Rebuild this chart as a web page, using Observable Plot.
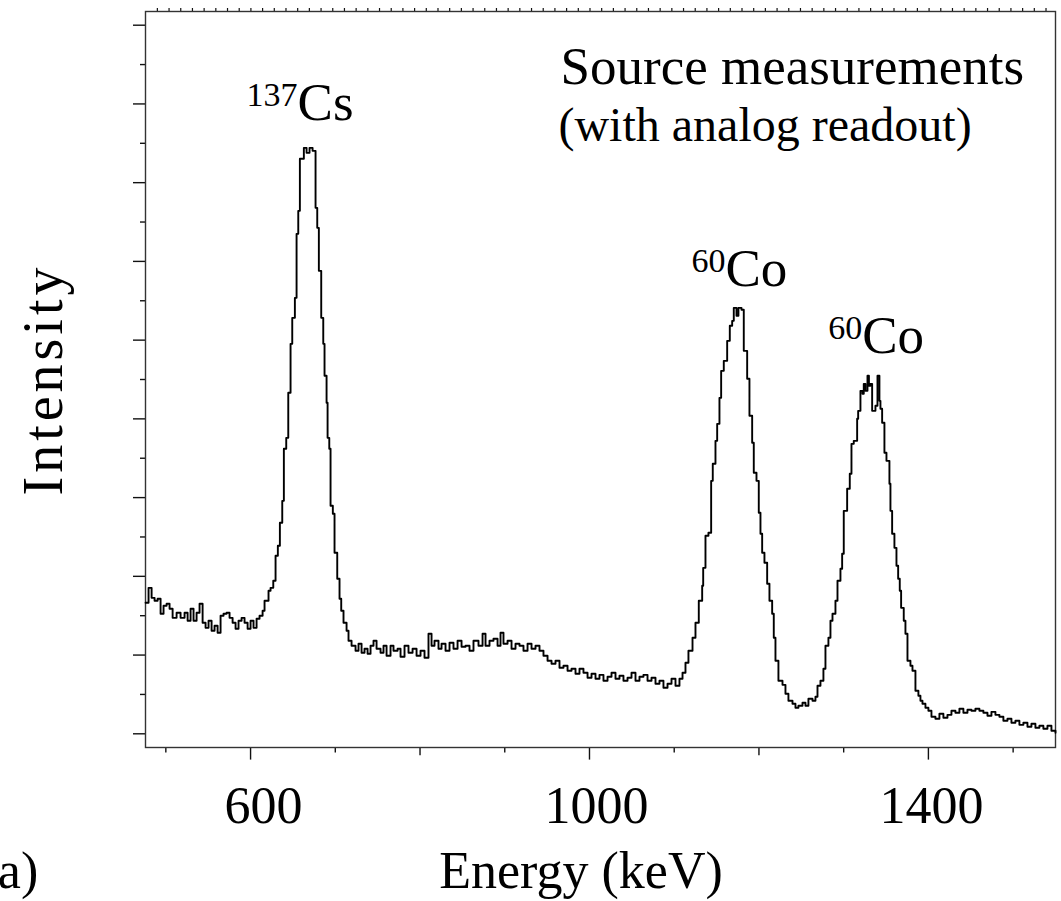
<!DOCTYPE html>
<html><head><meta charset="utf-8">
<script src="https://cdn.jsdelivr.net/npm/d3@7"></script>
<script src="https://cdn.jsdelivr.net/npm/@observablehq/plot@0.6"></script>
<style>html,body{margin:0;padding:0;background:#fff;overflow:hidden} svg{display:block}</style>
</head><body><div id="chart"></div>
<script>
// Spectrum (step histogram): energy in keV (left edge of each step) and intensity (arb. units)
const energy = [
476.1,479.6,483.2,486.7,490.3,493.8,497.3,500.9,504.4,508.0,512.7,517.4,522.1,525.7,529.2,532.7,536.3,539.8,543.4,546.9,
550.4,554.0,557.5,561.1,564.6,568.1,571.7,575.2,578.8,582.3,585.8,589.4,592.9,596.5,600.0,603.5,607.1,610.6,614.2,616.5,
621.2,623.6,626.8,629.5,632.2,634.6,637.4,639.3,642.1,644.5,647.2,649.2,652.3,654.3,656.3,658.2,662.9,666.1,669.6,673.2,
676.7,678.7,680.6,683.4,685.8,687.3,689.7,690.9,692.9,694.4,697.1,699.1,702.3,705.0,707.0,709.7,713.3,715.6,719.2,723.9,
727.4,731.0,734.5,738.1,741.6,745.1,748.7,753.4,756.9,760.5,765.2,768.7,773.5,777.0,781.7,786.4,791.2,795.9,800.6,805.3,
810.0,813.6,817.1,821.8,825.4,830.1,834.8,839.5,844.3,849.0,853.7,858.4,863.1,869.0,873.8,877.3,882.0,886.7,891.5,895.0,
898.5,903.3,908.0,912.7,917.4,922.1,926.9,931.6,936.3,941.0,945.7,950.5,955.2,959.9,964.6,969.3,974.1,978.8,983.5,988.2,
992.9,997.7,1002.4,1007.1,1011.8,1016.5,1021.3,1026.0,1030.7,1035.4,1040.1,1044.9,1049.6,1054.3,1059.0,1063.7,1068.5,1073.2,1077.9,1082.6,
1087.3,1092.1,1096.8,1101.5,1106.2,1109.8,1113.3,1116.8,1121.6,1125.1,1129.0,1133.0,1134.2,1136.9,1140.4,1143.6,1145.5,1148.7,1150.7,1153.4,
1155.4,1158.5,1162.5,1165.6,1168.4,1170.3,1173.5,1175.8,1179.4,1182.1,1186.1,1188.8,1192.0,1193.9,1197.1,1199.8,1201.8,1203.8,1206.5,1209.7,
1212.4,1215.6,1217.5,1219.5,1223.0,1227.8,1231.3,1234.8,1239.6,1243.1,1246.6,1251.4,1254.9,1258.4,1263.2,1266.7,1269.1,1272.6,1276.1,1278.5,
1282.0,1284.4,1286.8,1290.3,1292.7,1296.2,1298.2,1300.1,1304.1,1307.2,1309.2,1311.9,1315.9,1317.1,1319.8,1322.2,1323.7,1325.7,1328.1,1329.8,
1331.6,1333.6,1337.5,1339.9,1342.2,1343.4,1345.4,1348.1,1350.5,1354.0,1355.2,1357.2,1359.9,1362.3,1364.3,1366.2,1367.8,1370.9,1372.9,1375.3,
1378.8,1381.2,1384.7,1388.2,1390.6,1393.0,1396.5,1400.0,1403.6,1408.3,1413.0,1417.7,1422.5,1427.2,1431.9,1436.6,1441.3,1446.1,1450.8,1455.5,
1460.2,1464.9,1469.7,1474.4,1479.1,1483.8,1488.5,1493.3,1498.0,1502.7,1507.4,1512.1,1516.9,1521.6,1526.3,1531.0,1535.7,1540.5,1545.2,1550.0
];
const counts = [
1664,1854,1727,1689,1715,1524,1626,1651,1588,1473,1537,1473,1537,1435,1588,1435,1537,1651,1410,1346,
1435,1308,1372,1283,1499,1524,1537,1473,1410,1334,1435,1473,1410,1334,1435,1346,1461,1499,1562,1689,
1816,1854,1943,2261,2388,2680,2959,3620,3759,4331,4953,5283,5537,6350,6642,7303,7442,7379,7442,7404,
6680,6426,5880,5283,4953,4547,4204,3759,3620,2896,2794,2299,1969,1715,1562,1410,1308,1181,1118,1054,
1143,1029,1080,1016,1118,1181,1080,1029,1118,991,1118,1054,1080,978,1118,1029,1080,991,1054,965,
1270,1118,1181,1080,1143,1054,1156,1080,1181,1105,1118,1054,1181,1118,1270,1118,1181,1207,1118,1283,
1143,1181,1080,1143,1118,1054,1143,1080,1118,1054,991,927,889,927,838,864,800,826,762,826,
775,711,762,699,749,673,724,775,699,737,673,711,775,673,724,749,673,711,635,673,
584,635,699,610,699,775,902,1054,1219,1410,1689,1880,2108,2515,2553,3213,3429,3721,3937,4267,
4610,4737,4991,5182,5245,5410,5309,5410,5385,4864,4509,4039,3696,3315,3213,2807,2540,2299,2172,1905,
1689,1524,1219,927,673,622,508,419,381,330,356,394,356,445,419,470,610,673,826,1118,
1219,1435,1524,1689,1943,2096,2286,2832,3112,3302,3683,3721,4001,4102,4356,4318,4445,4356,4547,4420,
4445,4102,4166,4547,4229,4128,3950,3569,3467,3175,2832,2540,2362,2134,1969,1816,1600,1435,1270,927,
864,800,546,483,419,381,330,292,216,191,254,203,241,292,267,318,267,305,292,318,
292,267,229,279,241,216,165,191,140,165,114,140,89,127,76,102,64,102,38,13
];

// Axis ticks
const xLabelTicks = [600, 1000, 1400];
const xMediumTicks = [800, 1200];
const xMinorTicks = [500, 700, 900, 1100, 1300, 1500];
const yMajorTicks = [0, 1000, 2000, 3000, 4000, 5000, 6000, 7000, 8000, 9000];
const yMinorTicks = [500, 1500, 2500, 3500, 4500, 5500, 6500, 7500, 8500];
const topTicks = d3.range(490, 1550, 13.8);

// Peak annotations: isotope mass number, element, and anchor (energy, intensity)
const peakMass = ["137", "60", "60"];
const peakElement = ["Cs", "Co", "Co"];
const peakEnergy = [655.5, 1160.5, 1321.8];
const peakLevel = [7790, 5690, 4839];

const titleLines = ["Source measurements", "(with analog readout)"];
const xLabel = "Energy (keV)";
const yLabel = "Intensity";
const panelTag = "(a)";

const spectrum = energy.map((e, i) => ({energy: e, counts: counts[i]}));
const peaks = peakMass.map((m, i) => ({mass: m, el: peakElement[i], e: peakEnergy[i], v: peakLevel[i]}));

const serif = "'Liberation Serif','Times New Roman',serif";
const labelShift = [13, 7, 3];

const chart = Plot.plot({
  width: 1061,
  height: 901,
  marginLeft: 145,
  marginRight: 6,
  marginTop: 11,
  marginBottom: 154,
  style: {fontFamily: serif, background: "white", color: "#111", overflow: "visible"},
  x: {domain: [476, 1550]},
  y: {domain: [-174, 9174]},
  marks: [
    Plot.axisY(yMajorTicks, {tickSize: 12, tickFormat: () => "", strokeWidth: 1.4, label: null}),
    Plot.axisY(yMinorTicks, {tickSize: 5, tickFormat: () => "", strokeWidth: 1.4, label: null}),
    Plot.axisX(xLabelTicks, {tickSize: 12.6, tickFormat: () => "", strokeWidth: 1.4, label: null}),
    Plot.axisX(xMediumTicks, {tickSize: 8.3, tickFormat: () => "", strokeWidth: 1.4, label: null}),
    Plot.axisX(xMinorTicks, {tickSize: 5.5, tickFormat: () => "", strokeWidth: 1.4, label: null}),
    Plot.axisX(topTicks, {anchor: "top", tickSize: 4, tickFormat: () => "", strokeWidth: 1.2, label: null}),
    ...xLabelTicks.map((t, i) => Plot.text([t], {x: d => d, text: d => String(d), frameAnchor: "bottom", dy: 75, dx: labelShift[i], lineAnchor: "bottom", fontSize: 52, fill: "black"})),
    Plot.frame({stroke: "#333", strokeWidth: 1.4}),
    Plot.line(spectrum, {x: "energy", y: "counts", curve: "step-after", stroke: "black", strokeWidth: 1.9}),
    Plot.text(peaks, {x: "e", y: "v", text: "el", textAnchor: "start", lineAnchor: "bottom", fontSize: 53, fill: "black"}),
    Plot.text(peaks, {x: "e", y: "v", text: "mass", textAnchor: "end", lineAnchor: "bottom", fontSize: 34, dy: -14, fill: "black"}),
    Plot.text([titleLines[0]], {x: [965.8], y: [8255], textAnchor: "start", lineAnchor: "bottom", fontSize: 53, fill: "black"}),
    Plot.text([titleLines[1]], {x: [963.4], y: [7530], textAnchor: "start", lineAnchor: "bottom", fontSize: 48, fill: "black"}),
    Plot.text([yLabel], {frameAnchor: "left", dx: -101, rotate: -90, textAnchor: "middle", lineAnchor: "middle", fontSize: 56, fill: "black"}),
    Plot.text([xLabel], {x: [990], frameAnchor: "bottom", dy: 140, lineAnchor: "bottom", fontSize: 52, fill: "black"}),
    Plot.text([panelTag], {frameAnchor: "bottom-left", dx: -165, dy: 140, textAnchor: "start", lineAnchor: "bottom", fontSize: 52, fill: "black"})
  ]
});
// widen the letter spacing of the rotated y-axis title to match the reference
d3.select(chart).selectAll("text").filter(function() { return this.textContent === yLabel; }).attr("letter-spacing", "4px");
document.getElementById("chart").append(chart);
</script>
</body></html>
